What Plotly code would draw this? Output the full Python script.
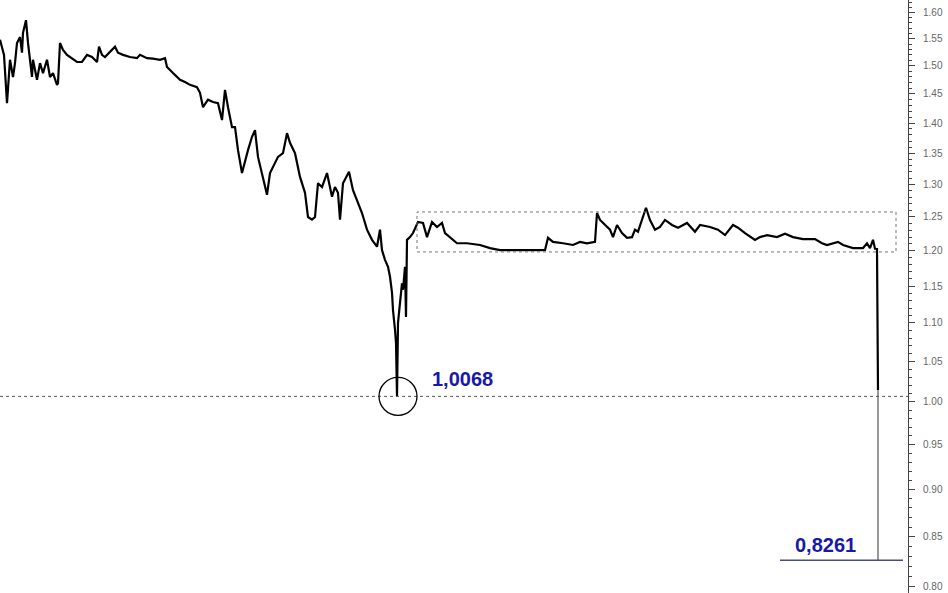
import math
import plotly.graph_objects as go

# Trading-day index (no x-axis labels shown in the reference)
day = [0, 2, 4, 7, 10, 13, 15, 17, 20, 22, 23, 26, 28, 32, 33, 37, 40, 43, 47, 50,
       53, 57, 58, 60, 63, 67, 70, 77, 82, 87, 92, 97, 99, 102, 105, 110, 115, 118, 123, 130,
       137, 140, 147, 153, 160, 165, 167, 173, 180, 185, 190, 197, 200, 203, 208, 213, 218, 222, 225, 228,
       232, 235, 238, 242, 245, 248, 252, 255, 258, 262, 265, 267, 270, 273, 278, 283, 287, 290, 295, 300,
       305, 308, 312, 315, 318, 322, 327, 332, 335, 338, 340, 343, 349, 353, 358, 362, 367, 372, 377, 380,
       382, 385, 388, 390, 392, 393, 395, 396, 397, 398, 400, 402, 403, 405, 406, 407, 410, 413, 418, 423,
       427, 432, 437, 442, 445, 450, 457, 467, 480, 490, 500, 517, 533, 545, 548, 553, 563, 573, 580, 587,
       595, 597, 600, 605, 610, 613, 617, 622, 627, 632, 635, 638, 642, 646, 650, 655, 660, 665, 672, 678,
       687, 695, 700, 710, 718, 725, 733, 738, 745, 755, 760, 767, 777, 785, 793, 803, 815, 822, 827, 833,
       838, 843, 853, 863, 867, 870, 873, 875, 877, 878]

eurchf = [1.548, 1.535, 1.520, 1.434, 1.511, 1.480, 1.505, 1.542, 1.553, 1.524, 1.561, 1.585, 1.542, 1.480, 1.511, 1.475, 1.505, 1.487, 1.511, 1.480,
          1.487, 1.466, 1.469, 1.542, 1.529, 1.520, 1.516, 1.507, 1.507, 1.520, 1.516, 1.507, 1.535, 1.520, 1.516, 1.525, 1.535, 1.524, 1.520, 1.516,
          1.514, 1.520, 1.514, 1.513, 1.511, 1.514, 1.498, 1.487, 1.475, 1.471, 1.466, 1.462, 1.452, 1.427, 1.440, 1.436, 1.434, 1.405, 1.457, 1.427,
          1.393, 1.393, 1.355, 1.318, 1.339, 1.355, 1.377, 1.388, 1.344, 1.318, 1.296, 1.284, 1.318, 1.328, 1.344, 1.350, 1.383, 1.367, 1.350, 1.312,
          1.287, 1.250, 1.246, 1.250, 1.302, 1.296, 1.318, 1.281, 1.296, 1.287, 1.246, 1.302, 1.320, 1.291, 1.271, 1.256, 1.231, 1.216, 1.206, 1.231,
          1.201, 1.187, 1.177, 1.163, 1.141, 1.117, 1.091, 1.074, 1.0068, 1.100, 1.127, 1.154, 1.145, 1.177, 1.108, 1.216, 1.220, 1.226, 1.2425, 1.241,
          1.220, 1.2425, 1.235, 1.241, 1.226, 1.220, 1.211, 1.211, 1.2085, 1.204, 1.201, 1.201, 1.201, 1.201, 1.219, 1.213, 1.211, 1.2085, 1.213, 1.211,
          1.213, 1.256, 1.2455, 1.238, 1.231, 1.220, 1.238, 1.226, 1.219, 1.220, 1.231, 1.228, 1.2455, 1.264, 1.2455, 1.231, 1.235, 1.2455, 1.238, 1.234,
          1.241, 1.228, 1.238, 1.235, 1.231, 1.223, 1.238, 1.234, 1.226, 1.216, 1.220, 1.223, 1.220, 1.225, 1.220, 1.217, 1.217, 1.211, 1.2085, 1.211,
          1.213, 1.2085, 1.204, 1.204, 1.211, 1.204, 1.216, 1.203, 1.2027, 1.0146]

# final thin tail of the crash (Jan 15 2015)
tail_day = [878, 878]
tail_val = [1.0146, 0.8261]

low_2011 = 1.0068
low_2015 = 0.8261
range_box = [417, 896, 1.1984, 1.2576]   # day0, day1, low, high
x_range = [0, 908]
y_range = [0.7942, 1.624]

fig = go.Figure()
fig.add_trace(go.Scatter(x=tail_day, y=tail_val, mode="lines",
                         line=dict(color="#333333", width=1), hoverinfo="skip"))
fig.add_trace(go.Scatter(x=day, y=eurchf, mode="lines",
                         line=dict(color="#000000", width=2.2), hoverinfo="skip"))

# dotted 1.0068 level
fig.add_shape(type="line", xref="paper", x0=0, x1=1, yref="y", y0=low_2011, y1=low_2011,
              line=dict(color="#555555", width=1, dash="dot"))
# dotted range box around the 1.20 floor
fig.add_shape(type="rect", xref="x", yref="y", x0=range_box[0], x1=range_box[1],
              y0=range_box[2], y1=range_box[3],
              line=dict(color="#777777", width=1, dash="dot"))
# circle around the low (radius ~19 px)
r_ln = 19 / 829.0
fig.add_shape(type="circle", xref="x", yref="y",
              x0=379, x1=417,
              y0=low_2011 * math.exp(-r_ln), y1=low_2011 * math.exp(r_ln),
              line=dict(color="#000000", width=1.3))
# 0.8261 level
fig.add_shape(type="line", xref="x", yref="y", x0=780, x1=903, y0=low_2015, y1=low_2015,
              line=dict(color="#4a5072", width=1.5))

fig.add_annotation(x=430, y=math.log10(1.0281), xref="x", yref="y", text="1,0068",
                   showarrow=False, xanchor="left", yanchor="middle",
                   font=dict(family="Liberation Sans, Arial", size=20, color="#1818aa", weight="bold"))
fig.add_annotation(x=825, y=math.log10(0.8416), xref="x", yref="y", text="0,8261",
                   showarrow=False, xanchor="center", yanchor="middle",
                   font=dict(family="Liberation Sans, Arial", size=20, color="#1818aa", weight="bold"))

fig.update_layout(
    width=948, height=593,
    margin=dict(l=0, r=40, t=0, b=0),
    paper_bgcolor="white", plot_bgcolor="white",
    showlegend=False,
    xaxis=dict(range=x_range, visible=False, showgrid=False, zeroline=False),
    yaxis=dict(type="log", range=[math.log10(y_range[0]), math.log10(y_range[1])],
               side="right", showline=True, linecolor="#444444", linewidth=1,
               ticks="outside", ticklen=6, tickcolor="#444444",
               tick0=0.8, dtick="L0.05", tickformat=".2f",
               tickfont=dict(family="Liberation Sans, Arial", size=10, color="#666666"),
               ticklabelstandoff=6,
               minor=dict(dtick="L0.01", tick0=0.8, ticks="outside", ticklen=3, tickcolor="#444444"),
               showgrid=False, zeroline=False),
)

fig.write_html("out.html", config={"displayModeBar": False},
               post_script="document.body.style.margin='0';document.body.style.overflow='hidden';")
